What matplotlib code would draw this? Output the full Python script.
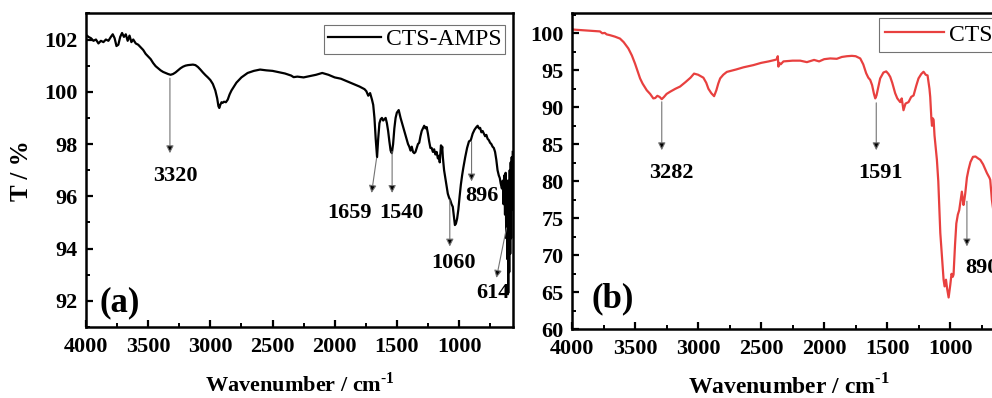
import numpy as np
import matplotlib.pyplot as plt
from matplotlib.ticker import MultipleLocator

plt.rcParams['font.family'] = ['Liberation Serif', 'DejaVu Serif']
plt.rcParams['mathtext.fontset'] = 'custom'
plt.rcParams['mathtext.rm'] = 'Liberation Serif:bold'
plt.rcParams['mathtext.bf'] = 'Liberation Serif:bold'

#------------------------------------------------
# (a) CTS-AMPS spectrum
wn_a = [4000, 3980, 3960, 3940, 3920, 3900, 3880, 3860, 3840, 3820, 3800, 3785,
        3770, 3755, 3740, 3725, 3710, 3695, 3680, 3665, 3650, 3635, 3620, 3600,
        3580, 3560, 3540, 3520, 3500, 3480, 3460, 3440, 3420, 3400, 3380, 3360,
        3340, 3320, 3300, 3280, 3260, 3240, 3220, 3200, 3180, 3160, 3140, 3120,
        3100, 3080, 3060, 3040, 3020, 3000, 2980, 2960, 2945, 2935, 2928, 2920,
        2910, 2900, 2890, 2875, 2860, 2845, 2830, 2810, 2790, 2770, 2750, 2720,
        2700, 2650, 2600, 2550, 2500, 2450, 2400, 2350, 2330, 2300, 2250, 2200,
        2150, 2100, 2050, 2000, 1950, 1900, 1850, 1800, 1780, 1760, 1745, 1730,
        1715, 1700, 1690, 1680, 1670, 1659, 1650, 1640, 1630, 1620, 1610, 1600,
        1590, 1580, 1570, 1560, 1550, 1540, 1530, 1520, 1510, 1500, 1485, 1470,
        1455, 1440, 1425, 1410, 1400, 1390, 1380, 1370, 1360, 1350, 1340, 1330,
        1320, 1310, 1300, 1290, 1280, 1270, 1260, 1250, 1240, 1230, 1220, 1210,
        1200, 1190, 1180, 1170, 1160, 1155, 1150, 1145, 1140, 1135, 1130, 1120,
        1110, 1100, 1090, 1080, 1070, 1060, 1050, 1040, 1033, 1025, 1015, 1005,
        995, 985, 975, 965, 950, 935, 920, 905, 890, 875, 860, 850,
        840, 830, 820, 810, 800, 790, 780, 770, 760, 750, 740, 730,
        720, 710, 700, 690, 680, 672, 665, 655, 648, 642, 636, 630,
        625, 620, 616, 612, 608, 604, 600, 596, 592, 588, 584, 580,
        576, 572, 568]
T_a = [102.18, 102.10, 102.05, 101.95, 102.00, 101.85, 101.95, 101.90, 102.00, 101.95, 102.10, 102.20,
       102.05, 101.75, 101.80, 102.10, 102.25, 102.10, 102.20, 101.95, 102.15, 101.90, 102.00, 101.85,
       101.80, 101.70, 101.60, 101.45, 101.35, 101.25, 101.10, 100.98, 100.90, 100.82, 100.76, 100.72,
       100.68, 100.65, 100.68, 100.74, 100.82, 100.90, 100.96, 101.00, 101.02, 101.03, 101.04, 101.02,
       100.95, 100.85, 100.74, 100.64, 100.55, 100.45, 100.30, 100.05, 99.75, 99.45, 99.38, 99.50,
       99.60, 99.58, 99.62, 99.60, 99.70, 99.90, 100.05, 100.20, 100.35, 100.45, 100.55, 100.65,
       100.72, 100.80, 100.85, 100.82, 100.80, 100.75, 100.70, 100.62, 100.56, 100.58, 100.55, 100.60,
       100.65, 100.72, 100.65, 100.55, 100.50, 100.40, 100.30, 100.20, 100.15, 100.10, 100.02, 99.85,
       99.95, 99.70, 99.50, 99.00, 98.20, 97.50, 98.20, 98.80, 98.95, 99.00, 98.90, 98.95,
       99.00, 98.80, 98.50, 98.10, 97.75, 97.65, 98.00, 98.60, 99.00, 99.20, 99.30, 99.00,
       98.75, 98.50, 98.25, 98.00, 97.90, 97.75, 97.90, 97.70, 97.65, 97.70, 97.85, 98.00,
       98.05, 98.30, 98.50, 98.60, 98.70, 98.60, 98.65, 98.40, 98.10, 97.85, 97.85, 97.70,
       97.80, 97.60, 97.70, 97.45, 97.55, 97.30, 97.60, 97.95, 97.70, 97.90, 97.50, 97.00,
       96.70, 96.40, 96.10, 95.95, 95.85, 95.70, 95.60, 95.20, 94.90, 94.95, 95.15, 95.50,
       96.00, 96.45, 96.80, 97.10, 97.50, 97.85, 98.10, 98.15, 98.40, 98.55, 98.65, 98.70,
       98.60, 98.62, 98.45, 98.50, 98.40, 98.30, 98.35, 98.20, 98.15, 98.05, 98.00, 97.90,
       97.85, 97.70, 97.40, 97.00, 96.80, 96.70, 96.50, 96.30, 96.60, 95.70, 96.80, 95.30,
       96.90, 94.40, 96.40, 93.60, 96.60, 92.30, 96.20, 93.10, 97.00, 93.80, 97.30, 94.40,
       97.50, 95.50, 97.70]

# (b) CTS spectrum
wn_b = [4000, 3990, 3900, 3850, 3800, 3778, 3760, 3740, 3725, 3700, 3660, 3619,
        3590, 3553, 3525, 3500, 3480, 3460, 3440, 3407, 3380, 3355, 3340, 3323,
        3305, 3288, 3270, 3250, 3222, 3180, 3143, 3100, 3060, 3032, 3000, 2958,
        2935, 2918, 2895, 2873, 2855, 2840, 2825, 2800, 2772, 2700, 2640, 2561,
        2500, 2440, 2390, 2375, 2368, 2363, 2355, 2345, 2323, 2250, 2190, 2137,
        2080, 2040, 2000, 1952, 1900, 1860, 1820, 1780, 1750, 1714, 1690, 1667,
        1650, 1635, 1620, 1605, 1595, 1585, 1570, 1556, 1530, 1508, 1490, 1476,
        1460, 1437, 1420, 1397, 1385, 1371, 1355, 1331, 1310, 1291, 1270, 1252,
        1230, 1212, 1195, 1180, 1165, 1159, 1150, 1145, 1138, 1132, 1125, 1115,
        1106, 1095, 1079, 1065, 1053, 1045, 1034, 1025, 1013, 1000, 990, 980,
        974, 962, 952, 940, 929, 915, 908, 900, 895, 888, 881, 868,
        855, 840, 820, 800, 780, 762, 740, 709, 690, 683, 670, 650]
T_b = [100.60, 100.50, 100.40, 100.35, 100.30, 100.25, 100.00, 100.05, 99.85, 99.75, 99.55, 99.28,
       98.80, 97.95, 97.00, 95.90, 94.90, 93.90, 93.20, 92.30, 91.80, 91.20, 91.25, 91.55,
       91.40, 91.10, 91.40, 91.80, 92.10, 92.50, 92.80, 93.40, 94.00, 94.55, 94.40, 94.00,
       93.30, 92.50, 91.90, 91.50, 92.30, 93.20, 93.90, 94.40, 94.78, 95.10, 95.40, 95.70,
       96.00, 96.20, 96.40, 96.50, 96.90, 95.50, 96.00, 95.80, 96.20, 96.30, 96.30, 96.10,
       96.40, 96.20, 96.50, 96.60, 96.55, 96.80, 96.90, 96.95, 96.90, 96.60, 95.80, 94.60,
       94.00, 93.70, 93.00, 91.80, 91.20, 91.60, 92.80, 93.90, 94.70, 94.85, 94.50, 94.10,
       93.30, 91.90, 91.20, 90.70, 91.20, 89.60, 90.50, 90.70, 91.40, 91.60, 92.90, 93.90,
       94.50, 94.80, 94.40, 94.30, 92.50, 91.40, 88.50, 87.50, 88.50, 88.30, 86.20, 84.50,
       82.90, 80.00, 73.00, 69.50, 66.70, 65.80, 66.70, 65.50, 64.30, 66.00, 67.50, 67.10,
       67.40, 71.50, 74.30, 75.50, 76.10, 77.80, 78.60, 77.50, 76.80, 77.50, 78.40, 80.50,
       81.60, 82.60, 83.30, 83.35, 83.10, 82.90, 82.30, 81.10, 80.50, 80.20, 77.50, 75.00]

# peak labels: (text, arrow start x, y, arrow end y, label x, label y)
peaks_a = [('3320', 3325, 100.52, 97.65, 3285, 96.76),
           ('1540', 1538, 97.72, 96.13, 1462, 95.37),
           ('896', 899, 98.10, 96.57, 819, 96.00),
           ('1060', 1074, 95.87, 94.08, 1047, 93.45)]
peaks_b = [('3282', 3288, 90.74, 84.2, 3209, 81.1),
           ('1591', 1587, 90.60, 84.2, 1556, 81.1)]

arrow_kw = dict(arrowstyle='-|>', fc='black', ec='0.45', lw=0.8,
                mutation_scale=11, shrinkA=0, shrinkB=0)

#------------------------------------------------
def StyleAxes(ax, ymin, ymax, ymaj, ymin_step):
    ax.set_xlim(4000, 566)
    ax.set_ylim(ymin, ymax)
    ax.xaxis.set_major_locator(MultipleLocator(500))
    ax.xaxis.set_minor_locator(MultipleLocator(250))
    ax.yaxis.set_major_locator(MultipleLocator(ymaj))
    ax.yaxis.set_minor_locator(MultipleLocator(ymin_step))
    ax.tick_params(which='both', direction='in', top=False, right=False)
    ax.tick_params(which='major', length=5, width=1.6, labelsize=16)
    ax.tick_params(which='minor', length=3, width=1.4)
    ax.tick_params(axis='x', pad=7)
    ax.tick_params(axis='y', pad=6)
    for lab in ax.get_xticklabels() + ax.get_yticklabels():
        lab.set_fontweight('bold')
    for sp in ax.spines.values():
        sp.set_linewidth(1.8)


fig = plt.figure(figsize=(9.92, 3.98), dpi=100)
axA = fig.add_axes([0.0867, 0.1784, 0.4304, 0.788])
axB = fig.add_axes([0.5766, 0.1726, 0.4365, 0.794])

# ---- panel (a)
axA.plot(wn_a, T_a, color='black', lw=1.6, label='CTS-AMPS')
StyleAxes(axA, 91, 103, 2, 1)
axA.set_xlabel(r'Wavenumber / cm$^{\text{-1}}$', fontsize=16, fontweight='bold', labelpad=11)
axA.set_ylabel('T / %', fontsize=18, fontweight='bold', labelpad=8)
for txt, x0, y0, y1, xl, yl in peaks_a:
    axA.annotate('', xy=(x0, y1), xytext=(x0, y0), arrowprops=arrow_kw)
    axA.text(xl, yl, txt, ha='center', va='center', fontsize=16, fontweight='bold')
axA.annotate('', xy=(1703, 96.13), xytext=(1663, 97.46), arrowprops=arrow_kw)
axA.text(1878, 95.37, '1659', ha='center', va='center', fontsize=16, fontweight='bold')
axA.annotate('', xy=(699, 92.88), xytext=(618, 94.79), arrowprops=arrow_kw)
axA.text(726, 92.3, '614', ha='center', va='center', fontsize=16, fontweight='bold')
axA.text(0.08, 0.076, '(a)', transform=axA.transAxes, ha='center', va='center',
         fontsize=25, fontweight='bold')
axA.legend(loc='upper right', bbox_to_anchor=(1 - 8/427, 1 - 12/314), borderaxespad=0,
           fontsize=17, fancybox=False, edgecolor='0.45', framealpha=1,
           handlelength=2.25, handletextpad=0.2, borderpad=0.15)
axA.get_legend().get_frame().set_linewidth(0.8)

# ---- panel (b)
axB.plot(wn_b, T_b, color='#e8403f', lw=1.6, label='CTS')
StyleAxes(axB, 60, 102.7, 5, 2.5)
axB.set_xlabel(r'Wavenumber / cm$^{\text{-1}}$', fontsize=17, fontweight='bold', labelpad=11)
for txt, x0, y0, y1, xl, yl in peaks_b:
    axB.annotate('', xy=(x0, y1), xytext=(x0, y0), arrowprops=arrow_kw)
    axB.text(xl, yl, txt, ha='center', va='center', fontsize=16, fontweight='bold')
axB.annotate('', xy=(868, 71.2), xytext=(868, 77.3), arrowprops=arrow_kw)
axB.text(885, 68.3, '890', ha='left', va='center', fontsize=16, fontweight='bold')
axB.text(0.095, 0.098, '(b)', transform=axB.transAxes, ha='center', va='center',
         fontsize=25, fontweight='bold')
axB.legend(loc='upper left', bbox_to_anchor=(0.709, 1 - 5/316), borderaxespad=0,
           fontsize=17, fancybox=False, edgecolor='0.45', framealpha=1,
           handlelength=2.5, handletextpad=0.2, borderpad=0.25)
axB.get_legend().get_frame().set_linewidth(0.8)

fig.savefig('out.png', dpi=100)
